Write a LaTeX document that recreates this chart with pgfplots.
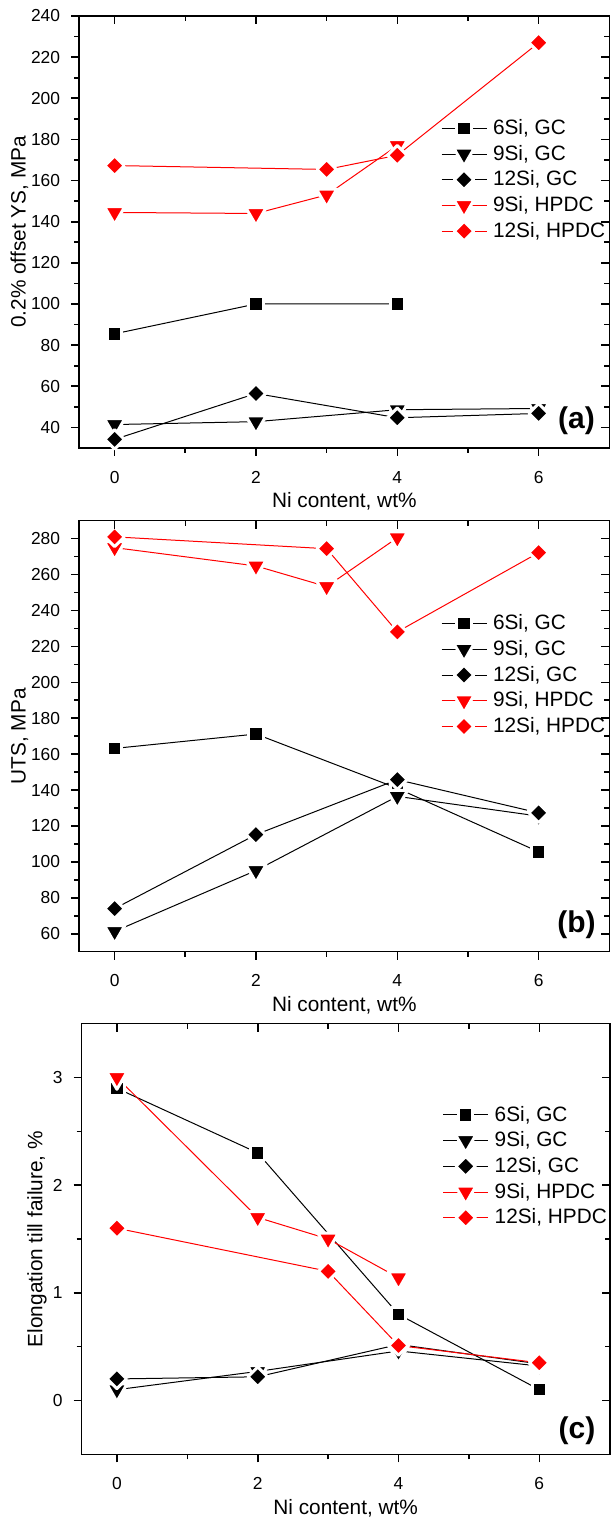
\documentclass[border=0pt]{standalone}
\usepackage{fontspec}
\setmainfont{Liberation Sans}
\usepackage{pgfplots}
\pgfplotsset{compat=1.18}

\newcommand{\tickfont}{\fontsize{17.4pt}{20pt}\selectfont}
\newcommand{\labfont}{\fontsize{20.8pt}{24pt}\selectfont}
\newcommand{\panfont}{\fontsize{30pt}{36pt}\selectfont\bfseries}

\pgfplotsset{
  base/.style={scale only axis, width=530pt, xmin=-0.5, xmax=7, xtick={0,2,4,6},
    minor x tick num=1, minor y tick num=1,
    axis line style={line width=1.6pt, line cap=rect},
    tick style={line width=1.6pt, black},
    major tick length=8pt, minor tick length=5pt, clip=false,
    /pgf/number format/assume math mode=true,
    tick label style={font=\tickfont},
    label style={font=\labfont}},
  main/.style={base, axis x line*=bottom, axis y line*=left, tick align=outside,
    xlabel={Ni content, wt\%},
    xlabel style={at={(axis description cs:0.5,0)}, anchor=base, yshift=-60pt},
    xticklabel style={anchor=base, yshift=-27.2pt, inner sep=0pt},
    yticklabel style={anchor=east, inner sep=0pt, xshift=-11pt},
    legend cell align=left,
    legend style={draw=none, fill=none, anchor=north west, inner sep=0pt, outer sep=0pt,
      row sep=0pt, column sep=6pt, font=\labfont,
      nodes={inner sep=0pt, text height=19pt, text depth=6.7pt}},
    legend image code/.code={\draw[mark repeat=2,mark phase=2] plot coordinates {(0pt,0pt)(22.5pt,0pt)(45pt,0pt)};}},
  mirror/.style={base, axis x line*=top, axis y line*=right, tick align=inside,
    xticklabels={}, yticklabels={}},
  sA/.style={black, line width=1pt, mark=square*, mark size=7.2pt,
    mark options={fill=black, draw=white, line width=3pt, line join=round}},
  sB/.style={black, line width=1pt, mark=triangle*, mark size=11.8pt,
    mark options={rotate=180, fill=black, draw=white, line width=3pt, line join=round}},
  sC/.style={black, line width=1pt, mark=square*, mark size=6.9pt,
    mark options={rotate=45, fill=black, draw=white, line width=3pt, line join=round}},
  sD/.style={red, line width=1pt, mark=triangle*, mark size=11.8pt,
    mark options={rotate=180, fill=red, draw=white, line width=3pt, line join=round}},
  sE/.style={red, line width=1pt, mark=square*, mark size=6.9pt,
    mark options={rotate=45, fill=red, draw=white, line width=3pt, line join=round}},
}

\begin{document}
\begin{tikzpicture}
\path[use as bounding box] (0,0) rectangle (611pt,1519pt);

% ---------------- (a) ----------------
\begin{axis}[main, at={(79.3pt,1071pt)}, anchor=south west, height=432pt,
  ymin=30, ymax=240, ytick={40,60,...,240},
  ylabel={0.2\% offset YS, MPa},
  ylabel style={at={(axis description cs:-0.1015,0.5)}, anchor=base},
  legend style={at={(axis description cs:0.6825,0.7697)}}]
\addplot[sA] coordinates {(0,85.5)(2,100)(4,100)};
\addplot[sB] coordinates {(0,41.4)(2,42.8)(4,48.6)(6,49.2)};
\addplot[sC] coordinates {(0,34.2)(2,56.5)(4,44.7)(6,46.8)};
\addplot[sD] coordinates {(0,144.5)(2,144)(3,153)(4,177)};
\addplot[sE] coordinates {(0,167.3)(3,165.4)(4,172.3)(6,227)};
\legend{{6Si, GC},{9Si, GC},{12Si, GC},{9Si, HPDC},{12Si, HPDC}}
\node[font=\panfont] at (rel axis cs:0.938,0.0625) {(a)};
\end{axis}
\begin{axis}[mirror, at={(79.3pt,1071pt)}, anchor=south west, height=432pt,
  ymin=30, ymax=240, ytick={40,60,...,240}]
\end{axis}

% ---------------- (b) ----------------
\begin{axis}[main, at={(79.3pt,567.3pt)}, anchor=south west, height=431pt,
  ymin=50, ymax=290, ytick={60,80,...,280},
  ylabel={UTS, MPa},
  ylabel style={at={(axis description cs:-0.1015,0.5)}, anchor=base},
  legend style={at={(axis description cs:0.6825,0.791)}}]
\addplot[sA] coordinates {(0,163.2)(2,171.2)(4,141)(6,105.6)};
\addplot[sB] coordinates {(0,61.3)(2,95.2)(4,136.5)(6,125.5)};
\addplot[sC] coordinates {(0,74)(2,115.2)(4,145.8)(6,127.3)};
\addplot[sD] coordinates {(0,275)(2,264.8)(3,253.3)(4,280.5)};
\addplot[sE] coordinates {(0,281)(3,274.4)(4,228.1)(6,272.2)};
\legend{{6Si, GC},{9Si, GC},{12Si, GC},{9Si, HPDC},{12Si, HPDC}}
\node[font=\panfont] at (rel axis cs:0.938,0.062) {(b)};
\end{axis}
\begin{axis}[mirror, at={(79.3pt,567.3pt)}, anchor=south west, height=431pt,
  ymin=50, ymax=290, ytick={60,80,...,280}]
\end{axis}

% ---------------- (c) ----------------
\begin{axis}[main, at={(81.7pt,64.7pt)}, anchor=south west, width=528pt, height=430.6pt,
  ymin=-0.5, ymax=3.5, ytick={0,1,2,3},
  ylabel={Elongation till failure, \%},
  ylabel style={at={(axis description cs:-0.0743,0.5)}, anchor=base},
  legend style={at={(axis description cs:0.6837,0.818)}}]
\addplot[sA] coordinates {(0,2.9)(2,2.3)(4,0.8)(6,0.1)};
\addplot[sB] coordinates {(0,0.1)(2,0.27)(4,0.46)(6,0.32)};
\addplot[sC] coordinates {(0,0.2)(2,0.22)(4,0.52)(6,0.34)};
\addplot[sD] coordinates {(0,3.0)(2,1.7)(3,1.5)(4,1.14)};
\addplot[sE] coordinates {(0,1.6)(3,1.2)(4,0.51)(6,0.35)};
\legend{{6Si, GC},{9Si, GC},{12Si, GC},{9Si, HPDC},{12Si, HPDC}}
\node[font=\panfont] at (rel axis cs:0.938,0.055) {(c)};
\end{axis}
\begin{axis}[mirror, at={(81.7pt,64.7pt)}, anchor=south west, width=528pt, height=430.6pt,
  ymin=-0.5, ymax=3.5, ytick={0,1,2,3}]
\end{axis}
\end{tikzpicture}
\end{document}
